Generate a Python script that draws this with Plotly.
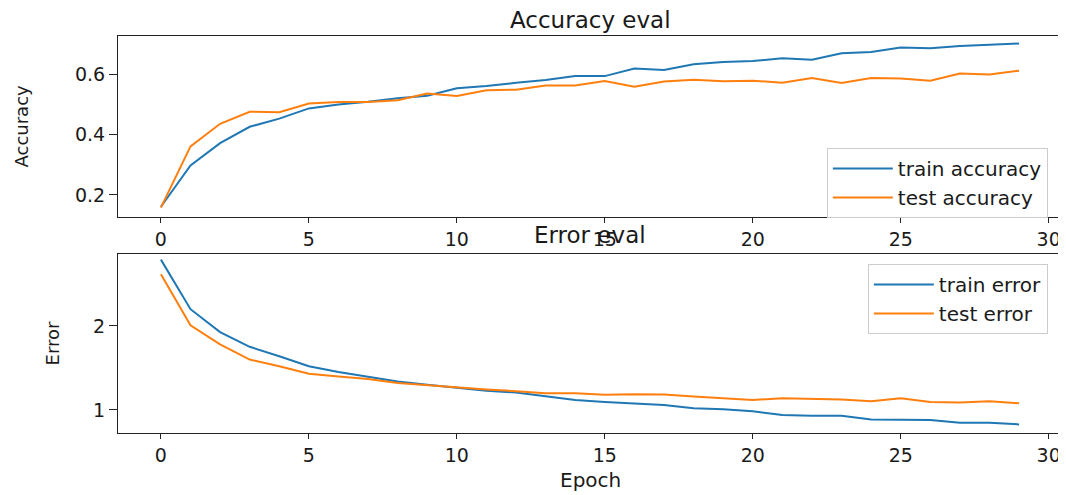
import plotly.graph_objects as go

epochs = list(range(30))

train_accuracy = [0.161, 0.298, 0.372, 0.426, 0.453, 0.487, 0.500, 0.509, 0.521, 0.529,
                  0.554, 0.561, 0.572, 0.581, 0.594, 0.594, 0.619, 0.614, 0.633, 0.641,
                  0.644, 0.653, 0.648, 0.670, 0.674, 0.689, 0.686, 0.694, 0.698, 0.702]
test_accuracy = [0.158, 0.361, 0.436, 0.476, 0.474, 0.503, 0.508, 0.508, 0.514, 0.536,
                 0.528, 0.547, 0.549, 0.563, 0.563, 0.578, 0.559, 0.576, 0.582, 0.577,
                 0.579, 0.572, 0.588, 0.571, 0.588, 0.586, 0.579, 0.603, 0.599, 0.612]

train_error = [2.79, 2.20, 1.928, 1.752, 1.64, 1.52, 1.452, 1.40, 1.34, 1.30,
               1.26, 1.228, 1.208, 1.168, 1.12, 1.096, 1.076, 1.06, 1.02, 1.008,
               0.984, 0.94, 0.932, 0.932, 0.888, 0.88, 0.88, 0.848, 0.848, 0.828]
test_error = [2.616, 2.008, 1.78, 1.60, 1.52, 1.432, 1.40, 1.368, 1.32, 1.292,
              1.272, 1.244, 1.224, 1.20, 1.20, 1.18, 1.188, 1.184, 1.16, 1.14,
              1.12, 1.14, 1.132, 1.124, 1.104, 1.14, 1.096, 1.088, 1.104, 1.08]

acc_ticks = [0.2, 0.4, 0.6]
acc_tick_labels = ["0.2", "0.4", "0.6"]
err_ticks = [1, 2]
x_ticks = [0, 5, 10, 15, 20, 25, 30]

BLUE = "#1f77b4"
ORANGE = "#ff7f0e"
FONT = "DejaVu Sans"
TXT = "#1a1a1a"

fig = go.Figure()
fig.add_trace(go.Scatter(x=epochs, y=train_accuracy, mode="lines", name="train accuracy",
                         line=dict(color=BLUE, width=2), xaxis="x", yaxis="y", legend="legend"))
fig.add_trace(go.Scatter(x=epochs, y=test_accuracy, mode="lines", name="test accuracy",
                         line=dict(color=ORANGE, width=2), xaxis="x", yaxis="y", legend="legend"))
fig.add_trace(go.Scatter(x=epochs, y=train_error, mode="lines", name="train error",
                         line=dict(color=BLUE, width=2), xaxis="x2", yaxis="y2", legend="legend2"))
fig.add_trace(go.Scatter(x=epochs, y=test_error, mode="lines", name="test error",
                         line=dict(color=ORANGE, width=2), xaxis="x2", yaxis="y2", legend="legend2"))

axis_common = dict(showline=True, linecolor="#222", linewidth=1.2, mirror=True,
                   showgrid=False, zeroline=False, ticks="outside", tickcolor="#222",
                   tickwidth=1.2, ticklabeloverflow="allow",
                   tickfont=dict(family=FONT, size=19, color=TXT))

top_dom = [0.5441, 1.0]
bot_dom = [0.0, 0.4509]

legend_common = dict(xanchor="right", yanchor="top", x=0.985,
                     bgcolor="rgba(255,255,255,0.8)", bordercolor="#cccccc", borderwidth=1,
                     font=dict(family=FONT, size=20, color=TXT), itemwidth=60,
                     tracegroupgap=0)

# page body has an 8px default margin, so the figure is sized to fit the window
fig.update_layout(
    width=1058, height=487,
    margin=dict(l=110, r=4, t=28, b=62),
    paper_bgcolor="white", plot_bgcolor="white",
    font=dict(family=FONT, size=19, color=TXT),
    xaxis=dict(domain=[0, 1], anchor="y", range=[-1.45, 30.45], tickvals=x_ticks,
               ticklen=5, **axis_common),
    yaxis=dict(domain=top_dom, anchor="x", range=[0.127, 0.727], tickvals=acc_ticks,
               ticktext=acc_tick_labels, ticklen=8, **axis_common),
    xaxis2=dict(domain=[0, 1], anchor="y2", range=[-1.45, 30.45], tickvals=x_ticks,
                ticklen=5, **axis_common),
    yaxis2=dict(domain=bot_dom, anchor="x2", range=[0.726, 2.857], tickvals=err_ticks,
                ticklen=8, **axis_common),
    legend=dict(y=0.718, **legend_common),
    legend2=dict(y=0.4257, **legend_common),
    showlegend=True,
    annotations=[
        dict(text="Accuracy eval", xref="paper", yref="paper", x=0.5, y=1.0,
             xanchor="center", yanchor="bottom", yshift=1, showarrow=False,
             font=dict(family=FONT, size=23, color=TXT)),
        dict(text="Error eval", xref="paper", yref="paper", x=0.5, y=bot_dom[1],
             xanchor="center", yanchor="bottom", yshift=4, showarrow=False,
             font=dict(family=FONT, size=23, color=TXT)),
        dict(text="Accuracy", xref="paper", yref="paper", x=0, y=sum(top_dom) / 2,
             xanchor="center", yanchor="middle", xshift=-97, textangle=-90,
             showarrow=False, font=dict(family=FONT, size=18, color=TXT)),
        dict(text="Error", xref="paper", yref="paper", x=0, y=sum(bot_dom) / 2,
             xanchor="center", yanchor="middle", xshift=-66, textangle=-90,
             showarrow=False, font=dict(family=FONT, size=18, color=TXT)),
        dict(text="Epoch", xref="paper", yref="paper", x=0.5, y=0,
             xanchor="center", yanchor="top", yshift=-33, showarrow=False,
             font=dict(family=FONT, size=20, color=TXT)),
    ],
)

fig.write_html("out.html")
